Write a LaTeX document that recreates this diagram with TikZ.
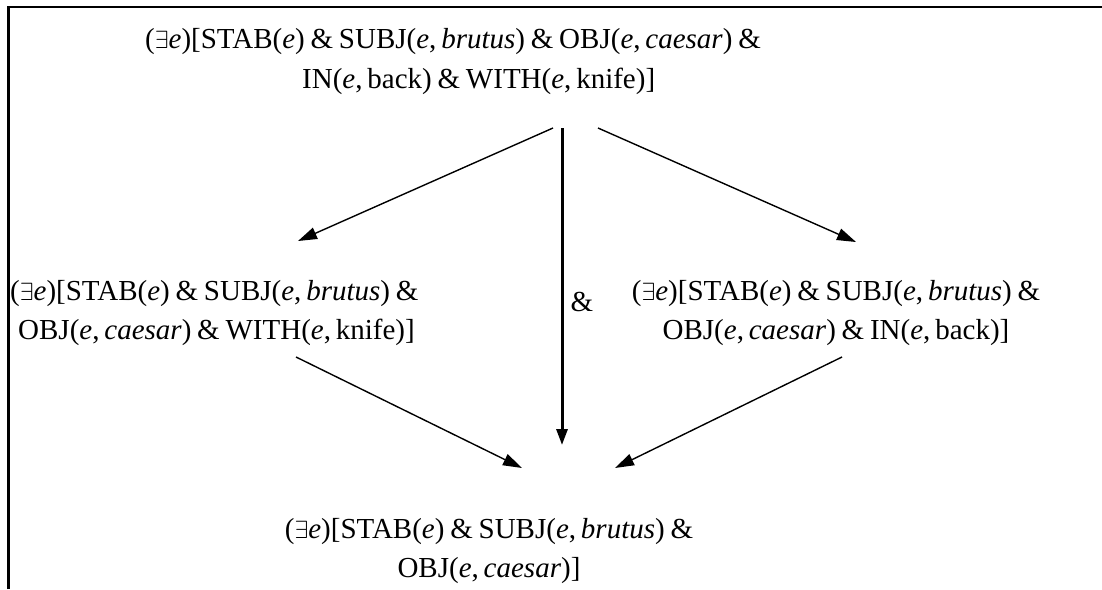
\documentclass[tikz,border=0pt]{standalone}
\usepackage{fontspec}
\setmainfont{Liberation Serif}
\usetikzlibrary{arrows.meta}
\newcommand{\ev}{\textit{e}}
\newcommand{\exq}{($\exists$\ev)}
\newcommand{\amp}{\hspace{0.2em}\&\hspace{0.2em}}
\begin{document}
\begin{tikzpicture}[x=1pt,y=-1pt,
  formula/.style={inner sep=0pt, font=\fontsize{29}{40}\selectfont},
  arr/.style={-{Triangle[length=19pt,width=12pt]}, line width=1.4pt},
  thickarr/.style={-{Triangle[length=16pt,width=11pt]}, line width=3pt},
  frame/.style={line width=2.6pt}
  ]
\useasboundingbox (0,0) rectangle (1102,589);
% frame
\coordinate (fl) at (8.5,589);
\coordinate (fc) at (8.5,7);
\coordinate (fr) at (1102,7);
\draw[frame] (fl) -- (fc) -- (fr);

% formulas
\node[formula, align=left, anchor=north west] (top) at (145,28)
  {\exq[STAB(\ev)\amp SUBJ(\ev,\,\textit{brutus})\amp OBJ(\ev,\,\textit{caesar})\amp\\
   \hspace*{157pt}IN(\ev,\,back)\amp WITH(\ev,\,knife)]};
\node[formula, align=left, anchor=north west, font=\fontsize{29}{39}\selectfont] (left) at (10,280)
  {\exq[STAB(\ev)\amp SUBJ(\ev,\,\textit{brutus})\amp\\
   \hspace*{8pt}OBJ(\ev,\,\textit{caesar})\amp WITH(\ev,\,knife)]};
\node[formula, align=center, anchor=north, font=\fontsize{29}{39}\selectfont] (right) at (836,280)
  {\exq[STAB(\ev)\amp SUBJ(\ev,\,\textit{brutus})\amp\\
   OBJ(\ev,\,\textit{caesar})\amp IN(\ev,\,back)]};
\node[formula, align=center, anchor=north, font=\fontsize{29}{39}\selectfont] (bottom) at (489,518)
  {\exq[STAB(\ev)\amp SUBJ(\ev,\,\textit{brutus})\amp\\
   OBJ(\ev,\,\textit{caesar})]};
\node[formula, anchor=center] (amp) at (582,302) {\&};

% connector ends
\coordinate (t1) at (553,128);
\coordinate (t2) at (562,128);
\coordinate (t3) at (598,128);
\coordinate (l1) at (298,241);
\coordinate (r1) at (856,242);
\coordinate (l2) at (296,357);
\coordinate (r2) at (842,357);
\coordinate (b1) at (522,468);
\coordinate (b2) at (562,445);
\coordinate (b3) at (615,468);

\draw[arr] (t1) -- (l1);
\draw[arr] (t3) -- (r1);
\draw[thickarr] (t2) -- (b2);
\draw[arr] (l2) -- (b1);
\draw[arr] (r2) -- (b3);
\end{tikzpicture}
\end{document}
